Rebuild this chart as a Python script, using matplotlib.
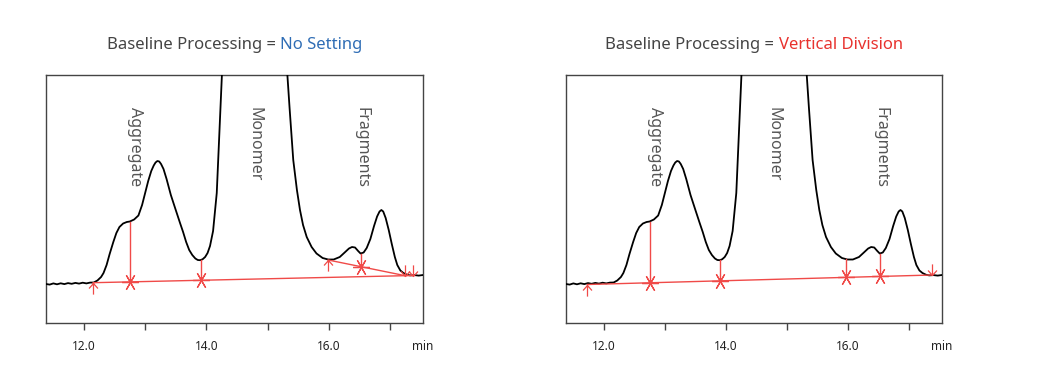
import numpy as np
import matplotlib
matplotlib.use('Agg')
import matplotlib.pyplot as plt
from matplotlib.path import Path

plt.rcParams['font.family'] = ['Noto Sans', 'DejaVu Sans']

# === 1. Chromatogram trace (min, signal) ===
t = [11.38, 11.44, 11.50, 11.56, 11.62, 11.68, 11.74, 11.80, 11.86, 11.92, 11.98,
     12.04, 12.10, 12.16, 12.22, 12.28, 12.32, 12.37, 12.42, 12.48, 12.53, 12.58,
     12.64, 12.70, 12.75, 12.82, 12.89, 12.95, 13.00, 13.05, 13.10, 13.14, 13.17,
     13.20, 13.23, 13.26, 13.30, 13.35, 13.42, 13.50, 13.57, 13.62, 13.67, 13.72,
     13.77, 13.82, 13.86, 13.90, 13.94, 13.98, 14.02, 14.06, 14.11, 14.17, 14.22,
     14.27, 14.35, 14.50, 14.75, 15.00, 15.20, 15.30, 15.36, 15.42, 15.48, 15.53,
     15.58, 15.64, 15.72, 15.80, 15.90, 15.99, 16.08, 16.18, 16.26, 16.33, 16.38,
     16.43, 16.48, 16.52, 16.57, 16.62, 16.68, 16.74, 16.79, 16.83, 16.86, 16.89,
     16.93, 16.98, 17.03, 17.08, 17.12, 17.17, 17.22, 17.28, 17.33, 17.40, 17.47,
     17.54]
signal = [39.0, 38.4, 39.6, 38.7, 39.7, 38.9, 39.9, 39.2, 40.1, 39.4, 40.3,
          39.6, 40.4, 40.5, 42.5, 46.0, 50.0, 58.0, 69.0, 81.0, 90.0, 96.0,
          99.5, 101.0, 101.5, 103.5, 107.5, 118.0, 130.0, 142.0, 152.0, 157.5, 160.5,
          162.0, 161.5, 159.0, 154.0, 144.0, 128.0, 113.0, 100.0, 91.0, 81.0, 73.0,
          68.0, 64.5, 63.0, 62.8, 63.8, 66.0, 70.0, 77.0, 92.0, 130.0, 200.0,
          270.0, 420.0, 750.0, 900.0, 750.0, 420.0, 270.0, 215.0, 163.0, 133.0, 113.0,
          98.0, 86.0, 76.0, 69.5, 65.0, 63.5, 63.5, 66.0, 70.5, 74.5, 76.0,
          75.5, 72.0, 69.5, 70.5, 75.0, 84.0, 97.0, 106.5, 111.5, 113.0, 111.5,
          105.0, 93.0, 79.0, 66.0, 58.0, 52.5, 50.0, 48.2, 47.6, 47.9, 47.4,
          48.0]

# === 2. Baseline processing settings ===
# No Setting: main baseline + tangent skim under fragments
ns_base_t = [12.15, 17.38]
ns_base_y = [40.3, 47.5]
ns_drops = [12.75, 13.91]
ns_skim_t = [15.99, 17.25]
ns_skim_y = [63.0, 47.3]
ns_skim_drops = [16.52]
ns_end_t = [17.25, 17.38]

# Vertical Division: one baseline, vertical drops everywhere
vd_base_t = [11.73, 17.38]
vd_base_y = [38.5, 48.0]
vd_drops = [12.75, 13.91, 15.97, 16.52]
vd_end_t = [17.38]

peak_names = ['Aggregate', 'Monomer', 'Fragments']
peak_pos = [12.83, 14.78, 16.54]

xticks = [12, 13, 14, 15, 16, 17]
xticklabels = ['12.0', '', '14.0', '', '16.0', '']

RED = '#f04a48'
GRAY = '#444444'

# custom markers: arrow up (start), arrow down (end)
up_arrow = Path([(0, 0), (0, -1), (-0.4, -0.45), (0, 0), (0.4, -0.45)],
                [Path.MOVETO, Path.LINETO, Path.MOVETO, Path.LINETO, Path.LINETO])
down_arrow = Path([(0, 0), (0, 1), (-0.4, 0.45), (0, 0), (0.4, 0.45)],
                  [Path.MOVETO, Path.LINETO, Path.MOVETO, Path.LINETO, Path.LINETO])
star = (6, 2, 90)
mk = dict(color=RED, mew=0.9, mfc='none', zorder=5)


def trace_at(x):
    return np.interp(x, t, signal)


def line_at(x, lt, ly):
    return np.interp(x, lt, ly)


def draw_panel(ax, base_t, base_y, drops, end_t, skim=None):
    ax.plot(t, signal, color='black', lw=1.3, zorder=3)
    ax.plot(base_t, base_y, color=RED, lw=1.0, zorder=4)
    ax.plot(base_t[0], base_y[0], marker=up_arrow, ms=16, **mk)
    for d in drops:
        yb = line_at(d, base_t, base_y)
        ax.plot([d, d], [yb, trace_at(d)], color=RED, lw=1.0, zorder=4)
        ax.plot(d, yb, marker=star, ms=12, **mk)
    if skim is not None:
        st, sy, sdrops = skim
        ax.plot(st, sy, color=RED, lw=1.0, zorder=4)
        ax.plot(st[0], sy[0], marker=up_arrow, ms=16, **mk)
        for d in sdrops:
            yb = line_at(d, st, sy)
            ax.plot([d, d], [yb, trace_at(d)], color=RED, lw=1.0, zorder=4)
            ax.plot(d, yb, marker=star, ms=12, **mk)
    for e in end_t:
        ax.plot(e, line_at(e, base_t, base_y), marker=down_arrow, ms=16, **mk)

    for name, p in zip(peak_names, peak_pos):
        ax.text(p, 216, name, rotation=-90, ha='center', va='top',
                fontsize=11.5, color='#555555')

    ax.set_xlim(11.38, 17.54)
    ax.set_ylim(0, 248)
    ax.set_yticks([])
    ax.set_xticks(xticks)
    ax.set_xticklabels(xticklabels, fontsize=8.5, fontweight='bold', color='#222222')
    ax.tick_params(axis='x', direction='out', length=5, width=1.0,
                   color='#444444', pad=7)
    for s in ax.spines.values():
        s.set_color('#444444')
        s.set_linewidth(1.0)
    ax.text(1.0, -0.068, 'min', transform=ax.transAxes, ha='center', va='top',
            fontsize=8.5, color='#222222')


fig = plt.figure(figsize=(10.4, 3.9), dpi=100)
ax1 = fig.add_axes([46 / 1040, 67 / 390, 377 / 1040, 248 / 390])
ax2 = fig.add_axes([566 / 1040, 67 / 390, 376 / 1040, 248 / 390])

draw_panel(ax1, ns_base_t, ns_base_y, ns_drops, ns_end_t,
           skim=(ns_skim_t, ns_skim_y, ns_skim_drops))
draw_panel(ax2, vd_base_t, vd_base_y, vd_drops, vd_end_t)


# === 3. Two-colour titles ===
def two_colour_title(ax, part2, colour2):
    renderer = fig.canvas.get_renderer()
    kw = dict(fontsize=12, va='center', ha='left')
    t1 = fig.text(0, 0.885, 'Baseline Processing = ', color=GRAY, **kw)
    t2 = fig.text(0, 0.885, part2, color=colour2, **kw)
    w1 = t1.get_window_extent(renderer).width / fig.bbox.width
    w2 = t2.get_window_extent(renderer).width / fig.bbox.width
    box = ax.get_position()
    cx = box.x0 + box.width / 2
    x0 = cx - (w1 + w2) / 2
    t1.set_x(x0)
    t2.set_x(x0 + w1)


two_colour_title(ax1, 'No Setting', '#2f6db5')
two_colour_title(ax2, 'Vertical Division', '#e8322e')

plt.savefig('out.png', dpi=100)
